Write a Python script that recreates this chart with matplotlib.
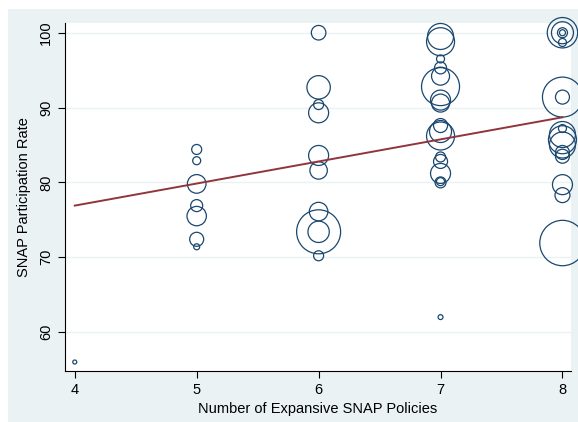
import matplotlib.pyplot as plt
from matplotlib.patches import Rectangle

plt.rcParams["font.family"] = ["Liberation Sans", "DejaVu Sans"]

# taxa de participacao e peso (tamanho da bolha) por numero de politicas
taxa_4 = [56.0]
peso_4 = [4]
taxa_5 = [84.4, 82.9, 79.8, 76.9, 75.5, 72.4, 71.4]
peso_5 = [25, 16, 87, 36, 94, 49, 9]
taxa_6 = [100.0, 92.7, 90.4, 89.3, 83.6, 81.6, 76.1, 73.4, 73.4, 70.2]
peso_6 = [53, 137, 25, 100, 100, 76, 86, 484, 114, 25]
taxa_7 = [99.5, 98.8, 96.5, 95.3, 94.2, 92.8, 91.0, 90.6, 87.6, 86.8, 86.2,
          83.4, 82.8, 81.2, 80.1, 80.0, 62.0]
peso_7 = [169, 196, 16, 36, 81, 361, 100, 81, 49, 121, 196,
          25, 49, 100, 16, 30, 6]
taxa_8 = [100.0, 100.0, 100.0, 100.0, 98.7, 91.4, 91.4, 87.2, 86.4, 85.7, 85.0,
          84.0, 83.5, 79.7, 78.3, 71.9]
peso_8 = [231, 121, 25, 9, 16, 400, 49, 16, 169, 196, 169,
          49, 49, 100, 56, 515]

grupos = [(4, taxa_4, peso_4), (5, taxa_5, peso_5), (6, taxa_6, peso_6),
          (7, taxa_7, peso_7), (8, taxa_8, peso_8)]

fit_x = [4, 8]
fit_y = [76.9, 88.7]

fig = plt.figure(figsize=(5.78, 4.22), dpi=100)
fig.patch.set_facecolor("white")
fig.patches.append(Rectangle((8 / 578, 0), 1, 1 - 9 / 422, transform=fig.transFigure,
                             facecolor="#eaf2f3", edgecolor="none", zorder=-1))

ax = fig.add_axes([65 / 578, 1 - 371 / 422, (571 - 65) / 578, (371 - 23) / 422])
ax.set_facecolor("white")

politicas, taxa, peso = [], [], []
for n, t, p in grupos:
    politicas += [n] * len(t)
    taxa += t
    peso += p

# peso ~ raio^2 em px -> s em pt^2
tam = [(1.44 * p ** 0.5) ** 2 for p in peso]
ax.scatter(politicas, taxa, s=tam, facecolors="none", edgecolors="#1a476f",
           linewidths=0.9, clip_on=False, zorder=3)
ax.plot(fit_x, fit_y, color="#90353b", linewidth=1.4, zorder=4)

ax.set_xlim(3.92, 8.07)
ax.set_ylim(54.8, 101.3)
ax.set_xticks([4, 5, 6, 7, 8])
ax.set_yticks([60, 70, 80, 90, 100])
ax.set_yticklabels(["60", "70", "80", "90", "100"], rotation=90, va="center")
ax.grid(axis="y", color="#eaf2f3", linewidth=1.0)
ax.set_axisbelow(True)
for lado in ["top", "right"]:
    ax.spines[lado].set_visible(False)
ax.tick_params(direction="out", length=5, width=0.8, labelsize=10.5)
ax.set_xlabel("Number of Expansive SNAP Policies", fontsize=10.5, labelpad=4)
ax.set_ylabel("SNAP Participation Rate", fontsize=10.5, labelpad=6)

fig.savefig("out.png", dpi=100)
